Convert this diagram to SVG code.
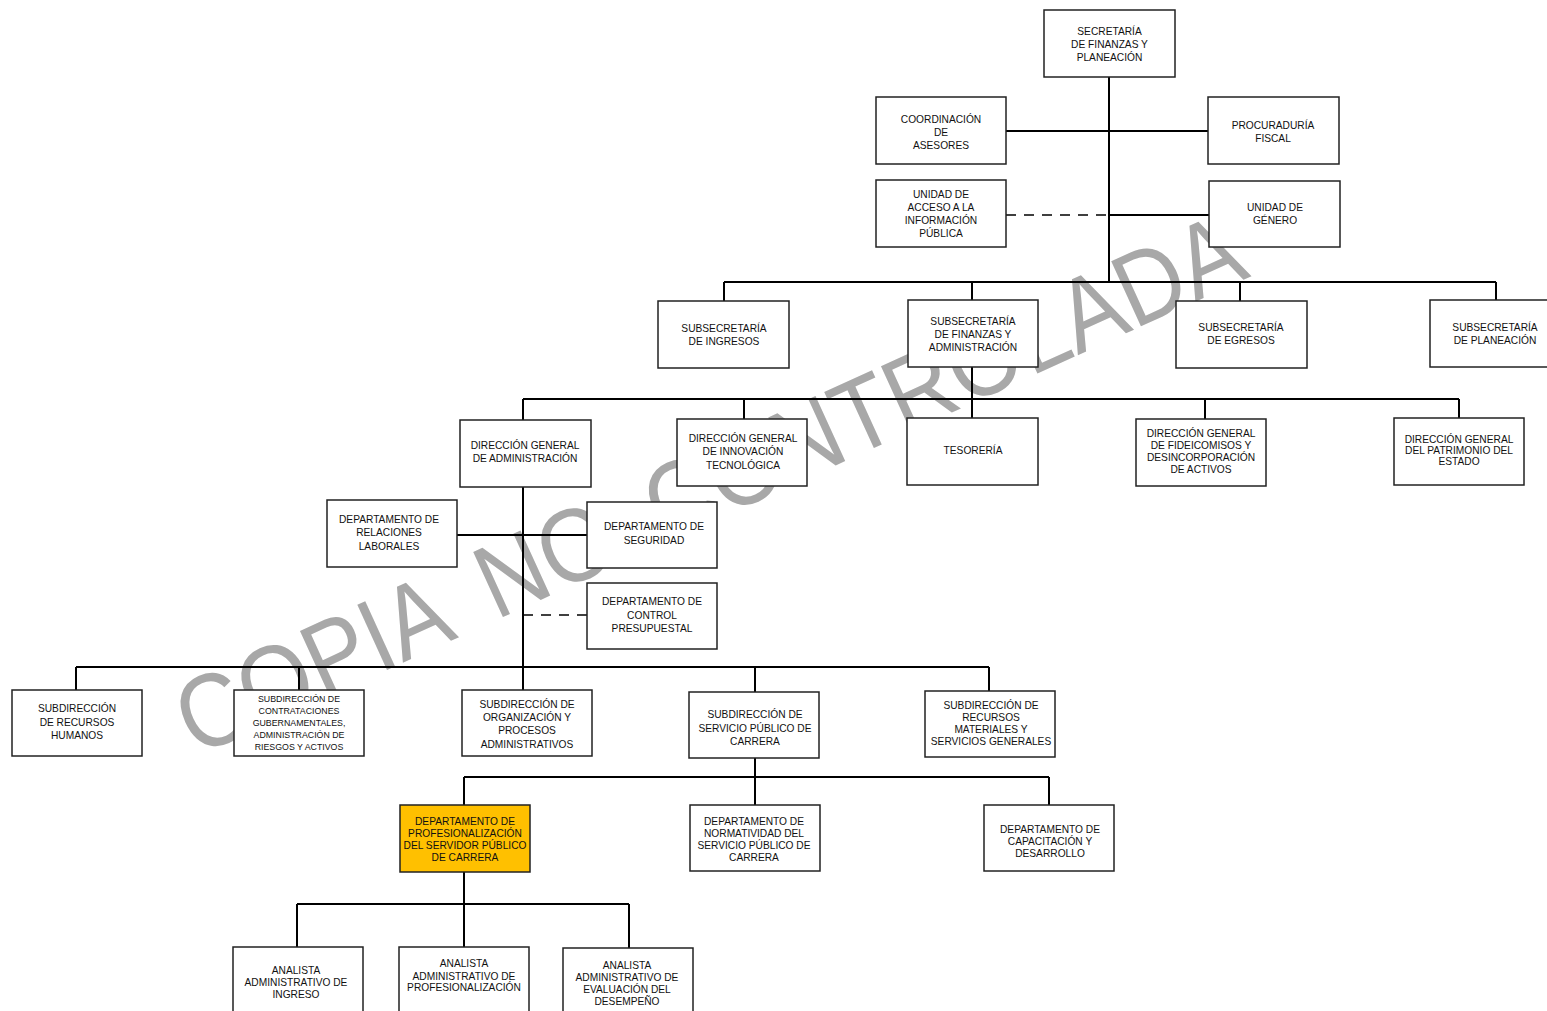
<svg xmlns="http://www.w3.org/2000/svg" width="1547" height="1011" viewBox="0 0 1547 1011">
<style>
.bx{fill:#fff;stroke:#222;stroke-width:1.5}
.hl{fill:#FFC000;stroke:#222;stroke-width:1.5}
.ln{fill:none;stroke:#000;stroke-width:2}
.ds{fill:none;stroke:#000;stroke-width:1.5;stroke-dasharray:10,8}
.t{font-family:"Liberation Sans",Arial,sans-serif;font-size:10.2px;fill:#111;text-anchor:middle}
.s{font-size:8.8px}
.wm{font-family:"Liberation Sans",Arial,sans-serif;font-size:104px;fill:#a8a8a8;word-spacing:22px}
</style>
<rect width="1547" height="1011" fill="#fff"/>
<text class="wm" x="196" y="757" transform="rotate(-24.5 196 757)" textLength="1160" lengthAdjust="spacingAndGlyphs">COPIA NO CONTROLADA</text>
<g id="connectors">
<path class="ln" d="M1109 77V282M1006 131H1208M1109 215H1209M724 282H1496M724 282V301M972 282V300M1240 282V301M1496 282V300"/>
<path class="ds" d="M1006 215H1109"/>
<path class="ln" d="M972 367V418M523 399H1459M523 399V420M744 399V419M1205 399V419M1459 399V418"/>
<path class="ln" d="M523 487V667M457 535H587M76 667H989M76 667V690M299 667V690M523 667V690M755 667V692M989 667V691"/>
<path class="ds" d="M523 615H587"/>
<path class="ln" d="M755 758V777M464 777H1049M464 777V805M755 777V805M1049 777V805"/>
<path class="ln" d="M464 872V904M297 904H629M297 904V947M464 904V947M629 904V948"/>
</g>
<g id="n1"><rect class="bx" x="1044" y="10" width="131" height="67"/><text class="t"><tspan x="1109.5" y="35">SECRETARÍA</tspan><tspan x="1109.5" y="48">DE FINANZAS Y</tspan><tspan x="1109.5" y="61">PLANEACIÓN</tspan></text></g>
<g id="n2"><rect class="bx" x="876" y="97" width="130" height="67"/><text class="t"><tspan x="941" y="123">COORDINACIÓN</tspan><tspan x="941" y="136">DE</tspan><tspan x="941" y="149">ASESORES</tspan></text></g>
<g id="n3"><rect class="bx" x="1208" y="97" width="131" height="67"/><text class="t"><tspan x="1273" y="129">PROCURADURÍA</tspan><tspan x="1273" y="142">FISCAL</tspan></text></g>
<g id="n4"><rect class="bx" x="876" y="180" width="130" height="67"/><text class="t"><tspan x="941" y="198">UNIDAD DE</tspan><tspan x="941" y="211">ACCESO A LA</tspan><tspan x="941" y="224">INFORMACIÓN</tspan><tspan x="941" y="237">PÚBLICA</tspan></text></g>
<g id="n5"><rect class="bx" x="1209" y="181" width="131" height="66"/><text class="t"><tspan x="1275" y="211">UNIDAD DE</tspan><tspan x="1275" y="224">GÉNERO</tspan></text></g>
<g id="n6"><rect class="bx" x="658" y="301" width="131" height="67"/><text class="t"><tspan x="724" y="332">SUBSECRETARÍA</tspan><tspan x="724" y="345">DE INGRESOS</tspan></text></g>
<g id="n7"><rect class="bx" x="908" y="300" width="130" height="67"/><text class="t"><tspan x="973" y="325">SUBSECRETARÍA</tspan><tspan x="973" y="338">DE FINANZAS Y</tspan><tspan x="973" y="351">ADMINISTRACIÓN</tspan></text></g>
<g id="n8"><rect class="bx" x="1176" y="301" width="131" height="67"/><text class="t"><tspan x="1241" y="331">SUBSECRETARÍA</tspan><tspan x="1241" y="344">DE EGRESOS</tspan></text></g>
<g id="n9"><rect class="bx" x="1430" y="300" width="131" height="67"/><text class="t"><tspan x="1495" y="331">SUBSECRETARÍA</tspan><tspan x="1495" y="344">DE PLANEACIÓN</tspan></text></g>
<g id="n10"><rect class="bx" x="460" y="420" width="131" height="67"/><text class="t"><tspan x="525" y="449">DIRECCIÓN GENERAL</tspan><tspan x="525" y="462">DE ADMINISTRACIÓN</tspan></text></g>
<g id="n11"><rect class="bx" x="677" y="419" width="130" height="67"/><text class="t"><tspan x="743" y="442">DIRECCIÓN GENERAL</tspan><tspan x="743" y="455">DE INNOVACIÓN</tspan><tspan x="743" y="469">TECNOLÓGICA</tspan></text></g>
<g id="n12"><rect class="bx" x="907" y="418" width="131" height="67"/><text class="t"><tspan x="973" y="454">TESORERÍA</tspan></text></g>
<g id="n13"><rect class="bx" x="1136" y="419" width="130" height="67"/><text class="t"><tspan x="1201" y="437">DIRECCIÓN GENERAL</tspan><tspan x="1201" y="449">DE FIDEICOMISOS Y</tspan><tspan x="1201" y="461">DESINCORPORACIÓN</tspan><tspan x="1201" y="473">DE ACTIVOS</tspan></text></g>
<g id="n14"><rect class="bx" x="1394" y="418" width="130" height="67"/><text class="t"><tspan x="1459" y="443">DIRECCIÓN GENERAL</tspan><tspan x="1459" y="454">DEL PATRIMONIO DEL</tspan><tspan x="1459" y="465">ESTADO</tspan></text></g>
<g id="n15"><rect class="bx" x="327" y="500" width="130" height="67"/><text class="t"><tspan x="389" y="523">DEPARTAMENTO DE</tspan><tspan x="389" y="536">RELACIONES</tspan><tspan x="389" y="550">LABORALES</tspan></text></g>
<g id="n16"><rect class="bx" x="587" y="502" width="130" height="66"/><text class="t"><tspan x="654" y="530">DEPARTAMENTO DE</tspan><tspan x="654" y="544">SEGURIDAD</tspan></text></g>
<g id="n17"><rect class="bx" x="587" y="583" width="130" height="66"/><text class="t"><tspan x="652" y="605">DEPARTAMENTO DE</tspan><tspan x="652" y="619">CONTROL</tspan><tspan x="652" y="632">PRESUPUESTAL</tspan></text></g>
<g id="n18"><rect class="bx" x="12" y="690" width="130" height="66"/><text class="t"><tspan x="77" y="712">SUBDIRECCIÓN</tspan><tspan x="77" y="726">DE RECURSOS</tspan><tspan x="77" y="739">HUMANOS</tspan></text></g>
<g id="n19"><rect class="bx" x="234" y="690" width="130" height="66"/><text class="t s"><tspan x="299" y="702">SUBDIRECCIÓN DE</tspan><tspan x="299" y="714">CONTRATACIONES</tspan><tspan x="299" y="726">GUBERNAMENTALES,</tspan><tspan x="299" y="738">ADMINISTRACIÓN DE</tspan><tspan x="299" y="750">RIESGOS Y ACTIVOS</tspan></text></g>
<g id="n20"><rect class="bx" x="462" y="690" width="130" height="66"/><text class="t"><tspan x="527" y="708">SUBDIRECCIÓN DE</tspan><tspan x="527" y="721">ORGANIZACIÓN Y</tspan><tspan x="527" y="734">PROCESOS</tspan><tspan x="527" y="748">ADMINISTRATIVOS</tspan></text></g>
<g id="n21"><rect class="bx" x="689" y="692" width="130" height="66"/><text class="t"><tspan x="755" y="718">SUBDIRECCIÓN DE</tspan><tspan x="755" y="732">SERVICIO PÚBLICO DE</tspan><tspan x="755" y="745">CARRERA</tspan></text></g>
<g id="n22"><rect class="bx" x="925" y="691" width="130" height="66"/><text class="t"><tspan x="991" y="709">SUBDIRECCIÓN DE</tspan><tspan x="991" y="721">RECURSOS</tspan><tspan x="991" y="733">MATERIALES  Y</tspan><tspan x="991" y="745">SERVICIOS GENERALES</tspan></text></g>
<g id="n23"><rect class="hl" x="400" y="805" width="130" height="67"/><text class="t"><tspan x="465" y="825">DEPARTAMENTO DE</tspan><tspan x="465" y="837">PROFESIONALIZACIÓN</tspan><tspan x="465" y="849">DEL SERVIDOR PÚBLICO</tspan><tspan x="465" y="861">DE  CARRERA</tspan></text></g>
<g id="n24"><rect class="bx" x="690" y="805" width="130" height="66"/><text class="t"><tspan x="754" y="825">DEPARTAMENTO DE</tspan><tspan x="754" y="837">NORMATIVIDAD DEL</tspan><tspan x="754" y="849">SERVICIO PÚBLICO DE</tspan><tspan x="754" y="861">CARRERA</tspan></text></g>
<g id="n25"><rect class="bx" x="984" y="805" width="130" height="66"/><text class="t"><tspan x="1050" y="833">DEPARTAMENTO DE</tspan><tspan x="1050" y="845">CAPACITACIÓN Y</tspan><tspan x="1050" y="857">DESARROLLO</tspan></text></g>
<g id="n26"><rect class="bx" x="233" y="947" width="130" height="75"/><text class="t"><tspan x="296" y="974">ANALISTA</tspan><tspan x="296" y="986">ADMINISTRATIVO DE</tspan><tspan x="296" y="998">INGRESO</tspan></text></g>
<g id="n27"><rect class="bx" x="399" y="947" width="130" height="75"/><text class="t"><tspan x="464" y="967">ANALISTA</tspan><tspan x="464" y="980">ADMINISTRATIVO DE</tspan><tspan x="464" y="991">PROFESIONALIZACIÓN</tspan></text></g>
<g id="n28"><rect class="bx" x="563" y="948" width="130" height="75"/><text class="t"><tspan x="627" y="969">ANALISTA</tspan><tspan x="627" y="981">ADMINISTRATIVO DE</tspan><tspan x="627" y="993">EVALUACIÓN DEL</tspan><tspan x="627" y="1005">DESEMPEÑO</tspan></text></g>
</svg>
